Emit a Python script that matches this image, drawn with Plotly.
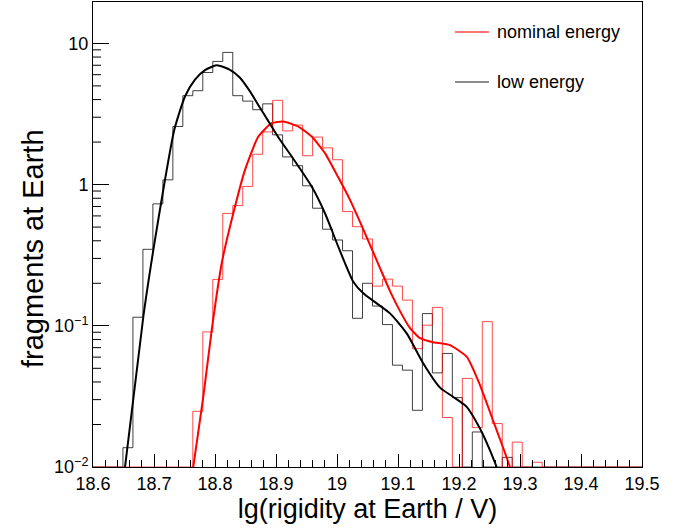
import numpy as np
import plotly.graph_objects as go

# ---------------- data ----------------
bin_lo, bin_hi, n_bins = 18.6, 19.5, 55

low_energy_counts = [
    0, 0, 0, 0.0137, 0.115, 0.348, 0.73, 1.08, 2.58, 4.26,
    4.62, 6.22, 7.45, 8.63, 4.26, 3.9, 3.39, 3.73, 2.25, 1.57,
    1.36, 0.98, 0.68, 0.483, 0.405, 0.340, 0.113, 0.20, 0.138, 0.102,
    0.0526, 0.0485, 0.0252, 0.122, 0.0464, 0.0637, 0.031, 0, 0.0177, 0,
    0, 0.0117, 0, 0, 0, 0, 0, 0, 0, 0,
    0, 0, 0, 0, 0,
]

nominal_energy_counts = [
    0, 0, 0, 0, 0, 0, 0, 0, 0, 0,
    0.0248, 0.0905, 0.213, 0.625, 0.71, 0.97, 1.64, 2.36, 3.95, 2.40,
    2.64, 1.60, 2.17, 1.82, 1.50, 0.644, 0.503, 0.412, 0.191, 0.214,
    0.191, 0.152, 0.0688, 0.101, 0.135, 0.0224, 0, 0.0424, 0.019, 0.107,
    0.0203, 0, 0.015, 0, 0.0108, 0, 0, 0, 0, 0,
    0, 0, 0, 0, 0,
]

# fitted curves (x, log10 y)
low_fit_x = [18.6525, 18.6825, 18.6989, 18.7180, 18.7333, 18.7508, 18.7672, 18.7836,
             18.8028, 18.8246, 18.8410, 18.8574, 18.8738, 18.8902, 18.9066, 18.9257,
             18.9585, 18.9803, 19.0021, 19.0267, 19.0431, 19.0651, 19.0869, 19.1143,
             19.1415, 19.1689, 19.1907, 19.2126, 19.2344, 19.2508, 19.2618]
low_fit_logy = [-2.0, -0.936, -0.463, 0.033, 0.388, 0.624, 0.743, 0.810,
                0.845, 0.813, 0.757, 0.660, 0.544, 0.430, 0.317, 0.199,
                -0.014, -0.203, -0.440, -0.688, -0.770, -0.841, -0.912, -1.054,
                -1.267, -1.438, -1.504, -1.574, -1.728, -1.882, -2.0]

nom_fit_x = [18.7644, 18.7808, 18.7946, 18.8110, 18.8328, 18.8492, 18.8710, 18.8930,
             18.9120, 18.9366, 18.9585, 18.9803, 19.0016, 19.0213, 19.0377, 19.0541,
             19.0705, 19.0869, 19.1033, 19.1197, 19.1361, 19.1574, 19.1852, 19.2131,
             19.2344, 19.2557, 19.2721, 19.2836]
nom_fit_logy = [-2.0, -1.504, -1.030, -0.557, -0.156, 0.104, 0.340, 0.435,
                0.447, 0.411, 0.340, 0.223, 0.055, -0.108, -0.264, -0.427,
                -0.591, -0.754, -0.896, -1.017, -1.087, -1.116, -1.137, -1.222,
                -1.420, -1.669, -1.860, -2.0]

y_tick_vals = [0.01, 0.1, 1, 10]
y_tick_text = ["10<sup>\u22122</sup>", "10<sup>\u22121</sup>", "1", "10"]
legend_labels = ["nominal energy", "low energy"]
x_title = "lg(rigidity at Earth / V)"
y_title = "fragments at Earth"

# ---------------- figure ----------------
y_floor = 0.01  # axis minimum: empty bins are drawn on the frame (as ROOT does)
edges = np.linspace(bin_lo, bin_hi, n_bins + 1)


def step_xy(counts):
    c = np.maximum(np.asarray(counts, dtype=float), y_floor)
    return list(edges), list(c) + [c[-1]]


fig = go.Figure()

bx, by = step_xy(low_energy_counts)
fig.add_trace(go.Scatter(x=bx, y=by, mode="lines", line=dict(color="rgba(0,0,0,0.75)", width=1, shape="hv"),
                         showlegend=False, hoverinfo="skip"))
rx, ry = step_xy(nominal_energy_counts)
fig.add_trace(go.Scatter(x=rx, y=ry, mode="lines", line=dict(color="rgba(255,0,0,0.7)", width=1, shape="hv"),
                         showlegend=False, hoverinfo="skip"))

fig.add_trace(go.Scatter(x=nom_fit_x, y=list(10 ** np.array(nom_fit_logy)), mode="lines",
                         line=dict(color="#ff0000", width=2, shape="spline", smoothing=0.5),
                         showlegend=False))
fig.add_trace(go.Scatter(x=low_fit_x, y=list(10 ** np.array(low_fit_logy)), mode="lines",
                         line=dict(color="#000000", width=2, shape="spline", smoothing=0.6),
                         showlegend=False))

font_family = "Liberation Sans, Arial, Helvetica, sans-serif"

fig.update_layout(
    width=680, height=529,
    margin=dict(l=93, r=38, t=2, b=62),
    paper_bgcolor="white", plot_bgcolor="white",
    font=dict(family=font_family, color="black", size=18),
    showlegend=False,
)

fig.update_xaxes(
    range=[bin_lo, bin_hi], tick0=18.6, dtick=0.1,
    ticks="inside", ticklen=13, tickwidth=1, tickcolor="black",
    minor=dict(dtick=0.02, ticks="inside", ticklen=7, tickcolor="black", showgrid=False),
    showline=True, linecolor="black", linewidth=1, mirror=True,
    showgrid=False, zeroline=False, automargin=False,
    tickfont=dict(size=18),
    title=dict(text=x_title, font=dict(size=27), standoff=6),
)

fig.update_yaxes(
    type="log", range=[-2, 1.293], tickmode="array",
    tickvals=y_tick_vals, ticktext=y_tick_text,
    ticks="inside", ticklen=16, tickwidth=1, tickcolor="black",
    showline=True, linecolor="black", linewidth=1, mirror=True,
    showgrid=False, zeroline=False, automargin=False,
    tickfont=dict(size=18),
)

# y-axis title (placed like the ROOT original, slightly below the frame centre)
fig.add_annotation(text=y_title, xref="paper", yref="paper",
                   x=(33 - 93) / 549, y=1 - (249 - 2) / 465,
                   xanchor="center", yanchor="middle", textangle=-90, showarrow=False,
                   font=dict(size=29, family=font_family, color="black"))

# minor log ticks on the y axis (2..9 in each decade)
for d in range(-2, 2):
    for m in range(2, 10):
        v = m * 10.0 ** d
        if np.log10(v) > 1.293:
            continue
        fig.add_shape(type="line", xref="paper", yref="y", x0=0, x1=8 / 549,
                      y0=v, y1=v, line=dict(color="black", width=1))

# legend drawn as in ROOT TLegend
leg_colors = ["rgba(255,0,0,0.7)", "rgba(0,0,0,0.6)"]
leg_y = [32, 82]
for lab, col, yy in zip(legend_labels, leg_colors, leg_y):
    fig.add_shape(type="line", xref="paper", yref="paper",
                  x0=(455 - 93) / 549, x1=(489 - 93) / 549,
                  y0=1 - (yy - 2) / 465, y1=1 - (yy - 2) / 465,
                  line=dict(color=col, width=1.5))
    fig.add_annotation(text=lab, xref="paper", yref="paper",
                       x=(495 - 93) / 549, y=1 - (yy - 2) / 465,
                       xanchor="left", yanchor="middle", showarrow=False,
                       font=dict(size=18, family=font_family, color="black"))

fig.write_html("out.html", config={"displayModeBar": False},
               post_script="document.body.style.margin='0';")
